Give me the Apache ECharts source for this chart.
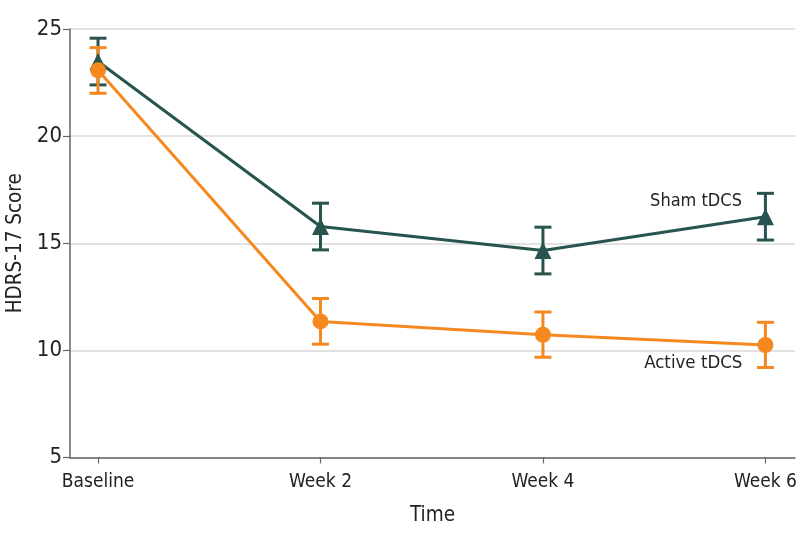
<!DOCTYPE html>
<html><head><meta charset="utf-8">
<script src="https://cdn.jsdelivr.net/npm/echarts@6/dist/echarts.min.js"></script>
<style>html,body{margin:0;padding:0;background:#fff}#c{width:798px;height:543px}</style>
</head><body><div id="c"></div>
<script>
const categories = ['Baseline', 'Week 2', 'Week 4', 'Week 6'];
const shamMean = [23.48, 15.78, 14.66, 16.24];
const shamLow = [22.39, 14.69, 13.57, 15.15];
const shamHigh = [24.57, 16.87, 15.75, 17.33];
const activeMean = [23.07, 11.35, 10.73, 10.25];
const activeLow = [22.00, 10.29, 9.68, 9.20];
const activeHigh = [24.13, 12.42, 11.79, 11.31];
const yTicks = [5, 10, 15, 20, 25];

const FONT = '"Liberation Sans Narrow", "DejaVu Sans Condensed", "Liberation Sans", sans-serif';
const SHAM = '#28544f';
const ACTIVE = '#f5891f';

function errSeries(low, high, color) {
  return {
    type: 'custom',
    z: 3,
    data: low.map((l, i) => [i, l, high[i]]),
    renderItem: function (params, api) {
      const x = api.value(0);
      const lo = api.coord([x, api.value(1)]);
      const hi = api.coord([x, api.value(2)]);
      const hw = 8.5;
      const st = { stroke: color, lineWidth: 3 };
      return {
        type: 'group',
        children: [
          { type: 'line', shape: { x1: lo[0], y1: lo[1], x2: hi[0], y2: hi[1] }, style: st },
          { type: 'line', shape: { x1: lo[0] - hw, y1: lo[1], x2: lo[0] + hw, y2: lo[1] }, style: st },
          { type: 'line', shape: { x1: hi[0] - hw, y1: hi[1], x2: hi[0] + hw, y2: hi[1] }, style: st }
        ]
      };
    }
  };
}

const chart = echarts.init(document.getElementById('c'));
chart.setOption({
  animation: false,
  grid: { left: 70, right: 3, top: 29, bottom: 85.5, containLabel: false, outerBoundsMode: 'none' },
  xAxis: {
    type: 'value', min: -0.126, max: 3.133,
    name: 'Time', nameLocation: 'middle', nameGap: 48,
    nameTextStyle: { fontFamily: FONT, fontSize: 20.5, color: '#222' },
    axisLine: { show: true, onZero: false, lineStyle: { color: '#666', width: 1.5 } },
    axisTick: { show: true, length: 6, lineStyle: { color: '#666', width: 1.2 }, customValues: [0, 1, 2, 3] },
    axisLabel: { customValues: [0, 1, 2, 3], formatter: v => categories[Math.round(v)], fontFamily: FONT, fontSize: 19, color: '#222', margin: 15 },
    splitLine: { show: false }
  },
  yAxis: {
    type: 'value', min: 5, max: 25, interval: 5,
    name: 'HDRS-17 Score', nameLocation: 'middle', nameGap: 44,
    nameTextStyle: { fontFamily: FONT, fontSize: 20.5, color: '#222' },
    axisLine: { show: true, onZero: false, lineStyle: { color: '#666', width: 1.5 } },
    axisTick: { show: true, length: 7, lineStyle: { color: '#666', width: 1.2 } },
    axisLabel: { fontFamily: FONT, fontSize: 22, color: '#222', margin: 8, formatter: v => yTicks.includes(v) ? String(v) : '' },
    splitLine: { show: true, lineStyle: { color: '#d9d9d9', width: 1.5 } }
  },
  series: [
    errSeries(shamLow, shamHigh, SHAM),
    errSeries(activeLow, activeHigh, ACTIVE),
    {
      type: 'line', z: 4,
      data: shamMean.map((v, i) => i === 3 ? { value: [i, v], label: { show: true, formatter: 'Sham tDCS', position: 'left', distance: 15, offset: [0, -15], fontFamily: FONT, fontSize: 18, color: '#222' } } : [i, v]),
      symbol: 'triangle', symbolSize: 17,
      lineStyle: { color: SHAM, width: 3 }, itemStyle: { color: SHAM }
    },
    {
      type: 'line', z: 5,
      data: activeMean.map((v, i) => i === 3 ? { value: [i, v], label: { show: true, formatter: 'Active tDCS', position: 'left', distance: 15, offset: [0, 18], fontFamily: FONT, fontSize: 18.5, color: '#222' } } : [i, v]),
      symbol: 'circle', symbolSize: 16,
      lineStyle: { color: ACTIVE, width: 3 }, itemStyle: { color: ACTIVE }
    }
  ]
});
</script></body></html>
